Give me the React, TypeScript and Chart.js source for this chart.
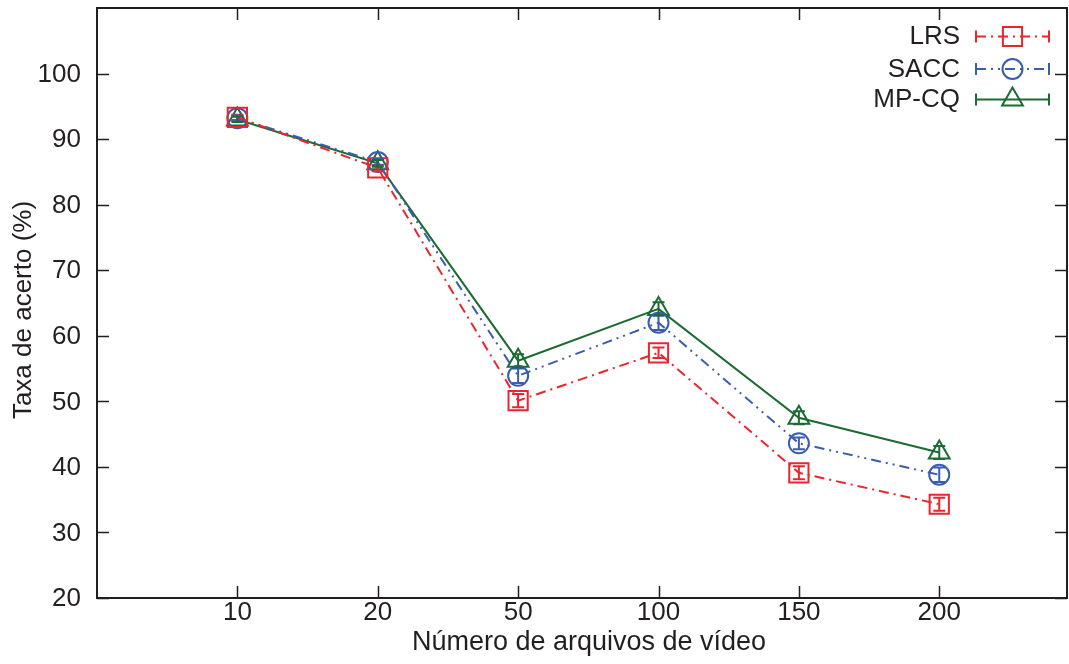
import React, { useEffect, useRef } from 'react';
import { Chart, registerables } from 'chart.js';

Chart.register(...registerables);

// Number of video files (x categories)
const categories = ['10', '20', '50', '100', '150', '200'];

// Accuracy (%) per method, with error-bar half-widths
const lrsValues = [93.3, 85.6, 50.1, 57.4, 39.1, 34.3];
const lrsErrors = [0.4, 0.5, 1.0, 0.8, 1.0, 1.0];

const saccValues = [93.2, 86.5, 53.9, 62.0, 43.6, 38.8];
const saccErrors = [0.4, 0.5, 1.1, 1.1, 0.9, 1.1];

const mpcqValues = [93.0, 86.3, 56.2, 64.1, 47.5, 42.2];
const mpcqErrors = [0.4, 0.5, 1.0, 1.0, 1.0, 1.0];

const yTickValues = [20, 30, 40, 50, 60, 70, 80, 90, 100];

const FONT = "'Liberation Sans', Arial, Helvetica, sans-serif";
const TEXT = '#231f20';

type Series = {
  label: string;
  values: number[];
  errors: number[];
  color: string;
  dash: number[];
  shape: 'rect' | 'circle' | 'triangle';
  radius: number;
};

const series: Series[] = [
  { label: 'LRS', values: lrsValues, errors: lrsErrors, color: '#e8262c', dash: [10, 5, 2, 5], shape: 'rect', radius: 13.6 },
  { label: 'SACC', values: saccValues, errors: saccErrors, color: '#3a5db0', dash: [10, 5, 2, 5, 2, 5], shape: 'circle', radius: 10 },
  { label: 'MP-CQ', values: mpcqValues, errors: mpcqErrors, color: '#1b6b33', dash: [], shape: 'triangle', radius: 12 },
];

function drawMarker(ctx: CanvasRenderingContext2D, shape: string, x: number, y: number, r: number) {
  ctx.beginPath();
  if (shape === 'rect') {
    const h = r * Math.SQRT1_2;
    ctx.rect(x - h, y - h, 2 * h, 2 * h);
  } else if (shape === 'circle') {
    ctx.arc(x, y, r, 0, Math.PI * 2);
  } else {
    const a = (2 * Math.PI) / 3;
    ctx.moveTo(x, y - r);
    ctx.lineTo(x + Math.sin(a) * r, y - Math.cos(a) * r);
    ctx.lineTo(x + Math.sin(2 * a) * r, y - Math.cos(2 * a) * r);
    ctx.closePath();
  }
  ctx.stroke();
}

// Error bars for each point, drawn on the value scale
const errorBarsPlugin = {
  id: 'errorBars',
  afterDatasetsDraw(chart: any) {
    const { ctx, scales } = chart;
    const ys = scales.y;
    ctx.save();
    ctx.lineWidth = 2;
    ctx.setLineDash([]);
    series.forEach((s, di) => {
      const meta = chart.getDatasetMeta(di);
      ctx.strokeStyle = s.color;
      meta.data.forEach((pt: any, i: number) => {
        const v = s.values[i];
        const e = s.errors[i];
        const top = ys.getPixelForValue(v + e);
        const bot = ys.getPixelForValue(v - e);
        const x = pt.x;
        ctx.beginPath();
        ctx.moveTo(x, top);
        ctx.lineTo(x, bot);
        ctx.moveTo(x - 6, top);
        ctx.lineTo(x + 6, top);
        ctx.moveTo(x - 6, bot);
        ctx.lineTo(x + 6, bot);
        ctx.stroke();
      });
    });
    ctx.restore();
  },
};

// Box frame with inward ticks on all four sides, plus tick labels
const framePlugin = {
  id: 'frame',
  afterDatasetsDraw(chart: any) {
    const { ctx, chartArea: a, scales } = chart;
    ctx.save();
    ctx.strokeStyle = TEXT;
    ctx.lineWidth = 2;
    ctx.setLineDash([]);
    ctx.strokeRect(a.left, a.top, a.right - a.left, a.bottom - a.top);
    ctx.lineWidth = 1.5;
    ctx.beginPath();
    categories.forEach((_, i) => {
      const x = Math.round(scales.x.getPixelForValue(i + 1)) + 0.5;
      ctx.moveTo(x, a.bottom);
      ctx.lineTo(x, a.bottom - 12);
      ctx.moveTo(x, a.top);
      ctx.lineTo(x, a.top + 12);
    });
    yTickValues.forEach((v) => {
      const y = Math.round(scales.y.getPixelForValue(v)) + 0.5;
      ctx.moveTo(a.left, y);
      ctx.lineTo(a.left + 12, y);
      ctx.moveTo(a.right, y);
      ctx.lineTo(a.right - 12, y);
    });
    ctx.stroke();

    ctx.fillStyle = TEXT;
    ctx.font = `26px ${FONT}`;
    ctx.textBaseline = 'middle';
    ctx.textAlign = 'center';
    categories.forEach((c, i) => {
      ctx.fillText(c, scales.x.getPixelForValue(i + 1), a.bottom + 15);
    });
    ctx.textAlign = 'right';
    yTickValues.forEach((v) => {
      ctx.fillText(String(v), a.left - 16, scales.y.getPixelForValue(v) + 1);
    });
    ctx.restore();
  },
};

// Axis titles and key
const annotationsPlugin = {
  id: 'annotations',
  afterDraw(chart: any) {
    const { ctx, chartArea: a } = chart;
    ctx.save();
    ctx.fillStyle = TEXT;
    ctx.textBaseline = 'middle';

    ctx.font = `27px ${FONT}`;
    ctx.textAlign = 'center';
    ctx.fillText('Número de arquivos de vídeo', (a.left + a.right) / 2 + 7, 643);

    ctx.font = `26px ${FONT}`;
    ctx.save();
    ctx.translate(24, 310);
    ctx.rotate(-Math.PI / 2);
    ctx.fillText('Taxa de acerto (%)', 0, 0);
    ctx.restore();

    const rows = [36.5, 69, 99.5];
    series.forEach((s, i) => {
      const y = rows[i];
      ctx.fillStyle = TEXT;
      ctx.textAlign = 'right';
      ctx.fillText(s.label, 960, y + 0.5);

      ctx.strokeStyle = s.color;
      ctx.lineWidth = 2;
      ctx.setLineDash(s.dash);
      ctx.beginPath();
      ctx.moveTo(976, y);
      ctx.lineTo(1049, y);
      ctx.stroke();
      ctx.setLineDash([]);
      ctx.beginPath();
      ctx.moveTo(976, y - 6);
      ctx.lineTo(976, y + 6);
      ctx.moveTo(1049, y - 6);
      ctx.lineTo(1049, y + 6);
      ctx.stroke();
      drawMarker(ctx, s.shape, 1012.5, y, s.radius);
    });
    ctx.restore();
  },
};

export default function App() {
  const canvasRef = useRef<HTMLCanvasElement | null>(null);

  useEffect(() => {
    if (!canvasRef.current) return;
    const chart = new Chart(canvasRef.current, {
      type: 'line',
      data: {
        datasets: series.map((s) => ({
          label: s.label,
          data: s.values.map((v, i) => ({ x: i + 1, y: v })),
          borderColor: s.color,
          borderWidth: 2,
          borderDash: s.dash,
          pointStyle: s.shape,
          pointRadius: s.radius,
          pointHoverRadius: s.radius,
          pointBorderWidth: 2,
          pointBorderColor: s.color,
          pointBackgroundColor: 'rgba(0,0,0,0)',
          fill: false,
          tension: 0,
        })),
      },
      options: {
        animation: false,
        responsive: false,
        events: [],
        layout: { autoPadding: false, padding: { top: 8, right: 2, left: 97, bottom: 66 } },
        plugins: { legend: { display: false }, tooltip: { enabled: false } },
        scales: {
          x: {
            type: 'linear',
            min: 0,
            max: 6.91,
            display: false,
            afterBuildTicks: (s: any) => {
              s.ticks = categories.map((_, i) => ({ value: i + 1 }));
            },
          },
          y: {
            type: 'linear',
            min: 20,
            max: 110,
            display: false,
            afterBuildTicks: (s: any) => {
              s.ticks = yTickValues.map((v) => ({ value: v }));
            },
          },
        },
      },
      plugins: [errorBarsPlugin, framePlugin, annotationsPlugin],
    });
    return () => chart.destroy();
  }, []);

  return (
    <div style={{ position: 'absolute', left: 0, top: 0, width: 1069, height: 664, background: '#fff' }}>
      <canvas ref={canvasRef} width={1069} height={664} style={{ display: 'block' }} />
    </div>
  );
}
